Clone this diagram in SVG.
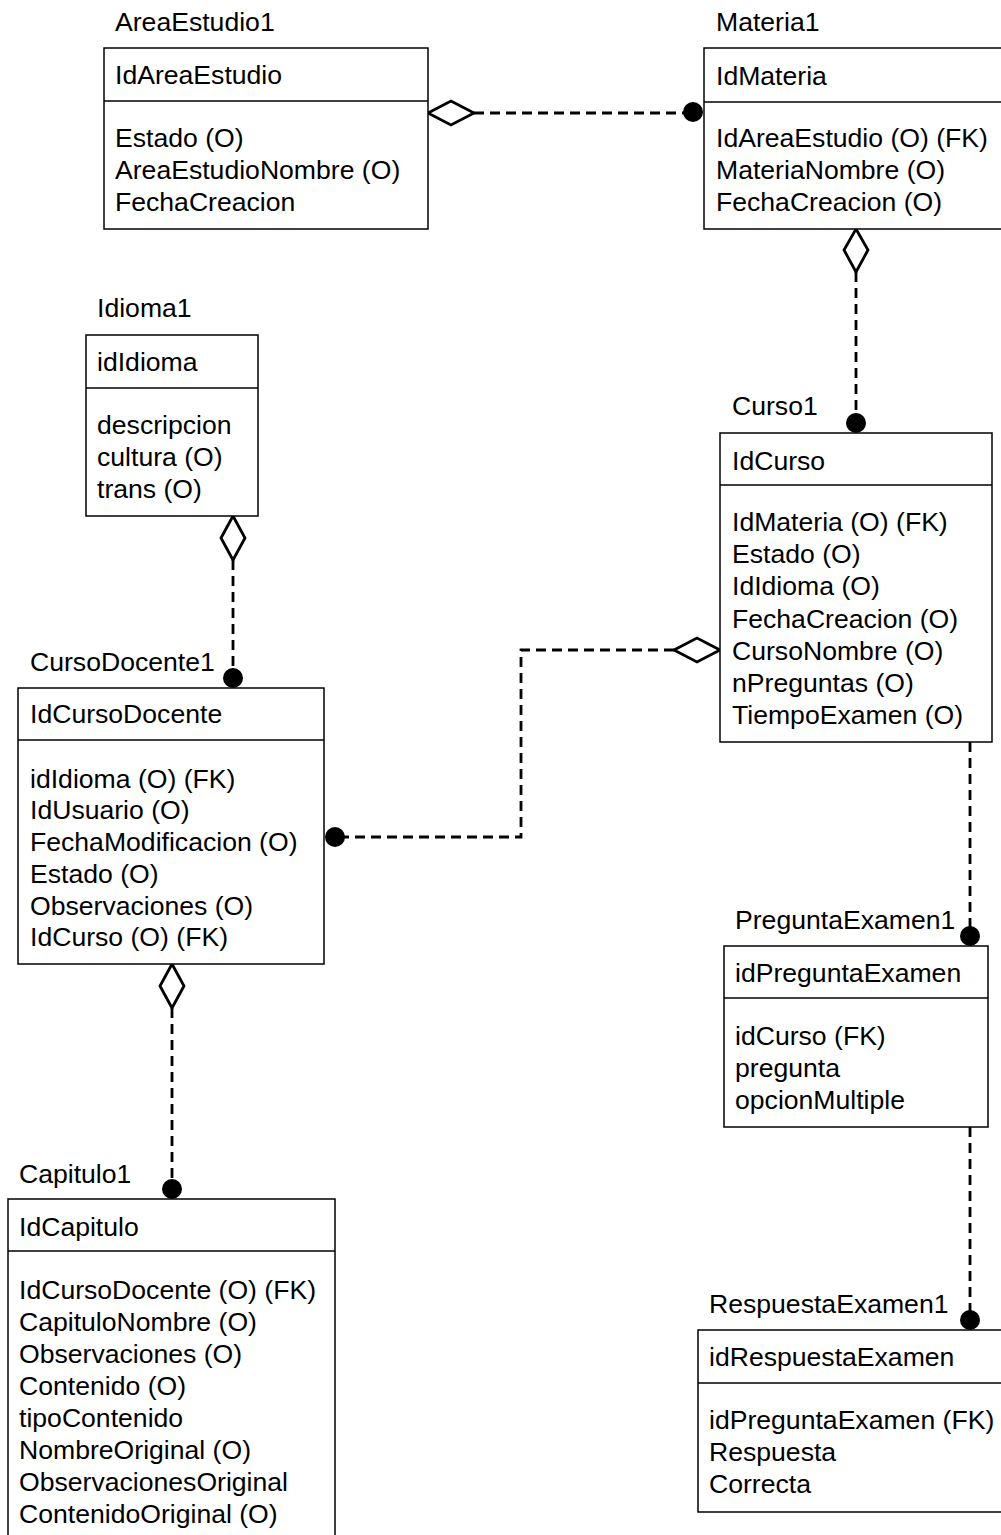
<svg xmlns="http://www.w3.org/2000/svg" width="1001" height="1535" viewBox="0 0 1001 1535">
<style>
text{font-family:"Liberation Sans",Arial,sans-serif;font-size:26.6px;fill:#000}
.box{fill:#fff;stroke:#000;stroke-width:1.5}
.div{stroke:#000;stroke-width:1.5}
.con{fill:none;stroke:#000;stroke-width:2.8;stroke-dasharray:10,6}
.dia{fill:#fff;stroke:#000;stroke-width:2.8}
.dot{fill:#000}
</style>
<rect width="1001" height="1535" fill="#fff"/>
<g id="connectors">
<line class="con" x1="474" y1="113" x2="684" y2="113"/>
<polygon class="dia" points="428,113 451,101 474,113 451,125"/>
<circle class="dot" cx="693" cy="112" r="10"/>
<line class="con" x1="856" y1="272" x2="856" y2="414"/>
<polygon class="dia" points="856,229 868,250 856,272 844,250"/>
<circle class="dot" cx="856" cy="423" r="10"/>
<line class="con" x1="233" y1="560" x2="233" y2="669"/>
<polygon class="dia" points="233,516 245,538 233,560 221,538"/>
<circle class="dot" cx="233" cy="678" r="10"/>
<polyline class="con" points="674,650 521,650 521,837 344,837"/>
<polygon class="dia" points="720,650 697,638 674,650 697,662"/>
<circle class="dot" cx="335" cy="837" r="10"/>
<line class="con" x1="172" y1="1008" x2="172" y2="1180"/>
<polygon class="dia" points="172,964 184,986 172,1008 160,986"/>
<circle class="dot" cx="172" cy="1189" r="10"/>
<line class="con" x1="970" y1="742" x2="970" y2="927"/>
<circle class="dot" cx="970" cy="936" r="10"/>
<line class="con" x1="970" y1="1127" x2="970" y2="1311"/>
<circle class="dot" cx="970" cy="1320" r="10"/>
</g>
<g id="AreaEstudio1">
<text x="115" y="31">AreaEstudio1</text>
<rect class="box" x="104" y="48" width="324" height="181"/>
<line class="div" x1="104" y1="101" x2="428" y2="101"/>
<text x="115" y="84">IdAreaEstudio</text>
<text x="115" y="147">Estado (O)</text>
<text x="115" y="179">AreaEstudioNombre (O)</text>
<text x="115" y="211">FechaCreacion</text>
</g>
<g id="Materia1">
<text x="716" y="31">Materia1</text>
<rect class="box" x="704" y="48" width="310" height="181"/>
<line class="div" x1="704" y1="102" x2="1014" y2="102"/>
<text x="716" y="85">IdMateria</text>
<text x="716" y="147">IdAreaEstudio (O) (FK)</text>
<text x="716" y="179">MateriaNombre (O)</text>
<text x="716" y="211">FechaCreacion (O)</text>
</g>
<g id="Idioma1">
<text x="97" y="317">Idioma1</text>
<rect class="box" x="86" y="335" width="172" height="181"/>
<line class="div" x1="86" y1="388" x2="258" y2="388"/>
<text x="97" y="371">idIdioma</text>
<text x="97" y="434">descripcion</text>
<text x="97" y="466">cultura (O)</text>
<text x="97" y="498">trans (O)</text>
</g>
<g id="Curso1">
<text x="732" y="415">Curso1</text>
<rect class="box" x="720" y="433" width="272" height="309"/>
<line class="div" x1="720" y1="485" x2="992" y2="485"/>
<text x="732" y="470">IdCurso</text>
<text x="732" y="531">IdMateria (O) (FK)</text>
<text x="732" y="563">Estado (O)</text>
<text x="732" y="595">IdIdioma (O)</text>
<text x="732" y="628">FechaCreacion (O)</text>
<text x="732" y="660">CursoNombre (O)</text>
<text x="732" y="692">nPreguntas (O)</text>
<text x="732" y="724">TiempoExamen (O)</text>
</g>
<g id="CursoDocente1">
<text x="30" y="671">CursoDocente1</text>
<rect class="box" x="18" y="688" width="306" height="276"/>
<line class="div" x1="18" y1="740" x2="324" y2="740"/>
<text x="30" y="723">IdCursoDocente</text>
<text x="30" y="788">idIdioma (O) (FK)</text>
<text x="30" y="819">IdUsuario (O)</text>
<text x="30" y="851">FechaModificacion (O)</text>
<text x="30" y="883">Estado (O)</text>
<text x="30" y="915">Observaciones (O)</text>
<text x="30" y="946">IdCurso (O) (FK)</text>
</g>
<g id="Capitulo1">
<text x="19" y="1183">Capitulo1</text>
<rect class="box" x="8" y="1199" width="327" height="350"/>
<line class="div" x1="8" y1="1251" x2="335" y2="1251"/>
<text x="19" y="1236">IdCapitulo</text>
<text x="19" y="1299">IdCursoDocente (O) (FK)</text>
<text x="19" y="1331">CapituloNombre (O)</text>
<text x="19" y="1363">Observaciones (O)</text>
<text x="19" y="1395">Contenido (O)</text>
<text x="19" y="1427">tipoContenido</text>
<text x="19" y="1459">NombreOriginal (O)</text>
<text x="19" y="1491">ObservacionesOriginal</text>
<text x="19" y="1523">ContenidoOriginal (O)</text>
</g>
<g id="PreguntaExamen1">
<text x="735" y="929">PreguntaExamen1</text>
<rect class="box" x="724" y="946" width="264" height="181"/>
<line class="div" x1="724" y1="998" x2="988" y2="998"/>
<text x="735" y="982">idPreguntaExamen</text>
<text x="735" y="1045">idCurso (FK)</text>
<text x="735" y="1077">pregunta</text>
<text x="735" y="1109">opcionMultiple</text>
</g>
<g id="RespuestaExamen1">
<text x="709" y="1313">RespuestaExamen1</text>
<rect class="box" x="698" y="1330" width="316" height="182"/>
<line class="div" x1="698" y1="1383" x2="1014" y2="1383"/>
<text x="709" y="1366">idRespuestaExamen</text>
<text x="709" y="1429">idPreguntaExamen (FK)</text>
<text x="709" y="1461">Respuesta</text>
<text x="709" y="1493">Correcta</text>
</g>
</svg>
